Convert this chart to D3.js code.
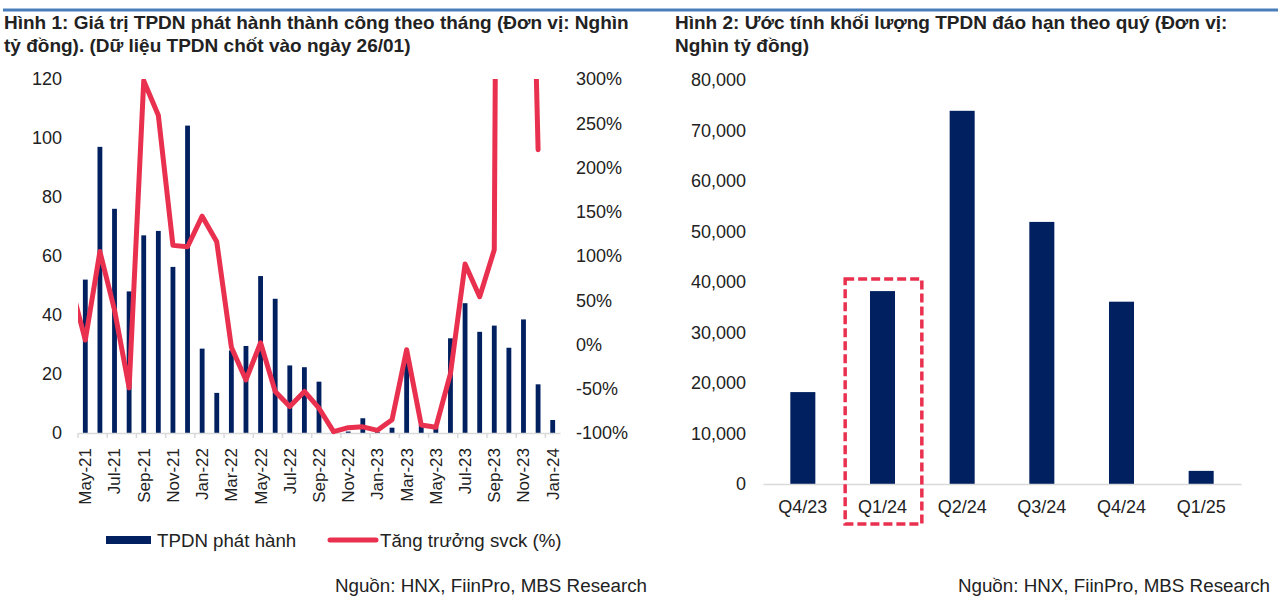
<!DOCTYPE html>
<html>
<head>
<meta charset="utf-8">
<script src="https://cdn.jsdelivr.net/npm/d3@7/dist/d3.min.js"></script>
<style>
  body { margin: 0; background: #fff; }
  svg { font-family: "Liberation Sans", Arial, sans-serif; }
  .tick text { fill: #222; font-size: 18px; }
</style>
</head>
<body>
<div id="chart"></div>
<script>
// Hinh 1: monthly issuance (nghin ty dong) and yoy growth (%)
var months = ["May-21","Jun-21","Jul-21","Aug-21","Sep-21","Oct-21","Nov-21","Dec-21",
  "Jan-22","Feb-22","Mar-22","Apr-22","May-22","Jun-22","Jul-22","Aug-22","Sep-22","Oct-22","Nov-22","Dec-22",
  "Jan-23","Feb-23","Mar-23","Apr-23","May-23","Jun-23","Jul-23","Aug-23","Sep-23","Oct-23","Nov-23","Dec-23",
  "Jan-24"];
var issued = [52, 97, 76, 48, 67, 68.5, 56.3, 104.2,
  28.6, 13.6, 28, 29.5, 53.2, 45.5, 22.9, 22.3, 17.4, 0.3, 0.5, 5,
  0.3, 1.8, 24.2, 2.7, 2, 32.1, 44, 34.3, 36.4, 28.9, 38.5, 16.5,
  4.4];
var growth = [5, 105, 39, -49, 298, 259, 112, 110.5,
  145, 116, -3, -40, 2, -53, -70, -53, -72, -98.5, -94, -93,
  -97, -85, -6, -91, -93.5, -33, 91, 54, 107, 3000, 900, 220,
  null];
var growthApr21 = 68; // month before the axis starts, only its segment shows
var issuedTicks = [0, 20, 40, 60, 80, 100, 120];
var growthTicks = [-100, -50, 0, 50, 100, 150, 200, 250, 300];

// Hinh 2: maturing volume by quarter (ty dong)
var quarters = ["Q4/23", "Q1/24", "Q2/24", "Q3/24", "Q4/24", "Q1/25"];
var maturing = [18200, 38200, 73900, 51900, 36100, 2600];
var maturingTicks = [0, 10000, 20000, 30000, 40000, 50000, 60000, 70000, 80000];

var navy = "#002060", red = "#e9304e", grid = "#d9d9d9";

var svg = d3.select("#chart").append("svg")
  .attr("width", 1280)
  .attr("height", 598);

// blue rule across the top
svg.append("rect")
  .attr("x", 3).attr("y", 8.5)
  .attr("width", 1275).attr("height", 3)
  .attr("fill", "#4a7ebb");

function title(x, lines) {
  var t = svg.append("text")
    .attr("x", x).attr("y", 29)
    .attr("fill", "#222")
    .style("font-size", "19px")
    .style("font-weight", "bold");
  lines.forEach(function (l, i) {
    t.append("tspan").attr("x", x).attr("dy", i ? 23 : 0).text(l);
  });
}
title(4, ["Hình 1: Giá trị TPDN phát hành thành công theo tháng (Đơn vị: Nghìn",
          "tỷ đồng). (Dữ liệu TPDN chốt vào ngày 26/01)"]);
title(675, ["Hình 2: Ước tính khối lượng TPDN đáo hạn theo quý (Đơn vị:",
            "Nghìn tỷ đồng)"]);

// ---------- left chart ----------
var pLeft = 78, pRight = 560, pTop = 79, pBottom = 433;

var x = d3.scaleBand(months, [pLeft, pRight]).paddingInner(0.67).paddingOuter(0.335);
var xb = d3.scaleBand(months, [pLeft, pRight]);
var yL = d3.scaleLinear([0, 120], [pBottom, pTop]);
var yR = d3.scaleLinear([-100, 300], [pBottom, pTop]);

svg.append("g")
  .selectAll("rect")
  .data(issued)
  .join("rect")
    .attr("x", (d, i) => x(months[i]))
    .attr("y", d => yL(d))
    .attr("width", x.bandwidth())
    .attr("height", d => yL(0) - yL(d))
    .attr("fill", navy);

var xAxis = svg.append("g")
  .attr("transform", `translate(0,${pBottom})`)
  .call(d3.axisBottom(x)
    .tickValues(months.filter((d, i) => i % 2 == 0))
    .tickSize(0)
    .tickSizeOuter(0));
xAxis.select(".domain").attr("stroke", grid).attr("stroke-width", 1.5);
xAxis.selectAll(".tick text")
  .attr("transform", "rotate(-90)")
  .attr("text-anchor", "end")
  .attr("x", -15)
  .attr("y", 0)
  .attr("dy", "0.35em")
  .style("font-size", "17px");

// tick marks sit on the band boundaries, every two months
svg.append("g")
  .selectAll("line")
  .data(months.filter((d, i) => i % 2 == 0))
  .join("line")
    .attr("x1", d => xb(d)).attr("x2", d => xb(d))
    .attr("y1", pBottom).attr("y2", pBottom + 5)
    .attr("stroke", grid).attr("stroke-width", 1.5);

var yLAxis = svg.append("g")
  .attr("transform", "translate(62,0)")
  .call(d3.axisLeft(yL).tickValues(issuedTicks).tickSize(0).tickPadding(0));
yLAxis.select(".domain").remove();

var yRAxis = svg.append("g")
  .attr("transform", "translate(576,0)")
  .call(d3.axisRight(yR).tickValues(growthTicks).tickSize(0).tickPadding(0)
    .tickFormat(d => d + "%"));
yRAxis.select(".domain").remove();

svg.append("clipPath").attr("id", "plot1")
  .append("rect")
  .attr("x", pLeft).attr("y", pTop)
  .attr("width", pRight - pLeft).attr("height", pBottom - pTop + 10);

var linePts = [{x: x(months[0]) - x.step() + x.bandwidth() / 2, v: growthApr21}]
  .concat(growth.map((v, i) => ({x: x(months[i]) + x.bandwidth() / 2, v: v})));

svg.append("path")
  .datum(linePts)
  .attr("clip-path", "url(#plot1)")
  .attr("fill", "none")
  .attr("stroke", red)
  .attr("stroke-width", 5)
  .attr("stroke-linejoin", "round")
  .attr("stroke-linecap", "round")
  .attr("d", d3.line().defined(d => d.v != null).x(d => d.x).y(d => yR(d.v)));

// legend
svg.append("rect").attr("x", 106).attr("y", 536).attr("width", 45).attr("height", 8).attr("fill", navy);
svg.append("text").attr("x", 157).attr("y", 547).attr("fill", "#222").style("font-size", "18.7px").text("TPDN phát hành");
svg.append("line").attr("x1", 330).attr("x2", 376).attr("y1", 540).attr("y2", 540)
  .attr("stroke", red).attr("stroke-width", 5).attr("stroke-linecap", "round");
svg.append("text").attr("x", 380).attr("y", 547).attr("fill", "#222").style("font-size", "18.7px").text("Tăng trưởng svck (%)");

// ---------- right chart ----------
var qLeft = 763, qRight = 1241, qTop = 80, qBottom = 484;
var xq = d3.scaleBand(quarters, [qLeft, qRight]).paddingInner(0.686).paddingOuter(0.343);
var yq = d3.scaleLinear([0, 80000], [qBottom, qTop]);

svg.append("g")
  .selectAll("rect")
  .data(maturing)
  .join("rect")
    .attr("x", (d, i) => xq(quarters[i]))
    .attr("y", d => yq(d))
    .attr("width", xq.bandwidth())
    .attr("height", d => yq(0) - yq(d))
    .attr("fill", navy);

var xqAxis = svg.append("g")
  .attr("transform", `translate(0,${qBottom})`)
  .call(d3.axisBottom(xq).tickSize(0).tickSizeOuter(0).tickPadding(16));
xqAxis.select(".domain").attr("stroke", grid).attr("stroke-width", 1.5);

var yqAxis = svg.append("g")
  .attr("transform", "translate(746,0)")
  .call(d3.axisLeft(yq).tickValues(maturingTicks).tickSize(0).tickPadding(0)
    .tickFormat(d3.format(",")));
yqAxis.select(".domain").remove();

// dashed highlight round Q1/24
var hi = quarters.indexOf("Q1/24");
var hiLeft = xq(quarters[hi]) - xq.step() * xq.paddingInner() / 2;
svg.append("rect")
  .attr("x", hiLeft + 2.5)
  .attr("y", yq(maturing[hi]) - 12)
  .attr("width", xq.step() - 3)
  .attr("height", 524 - (yq(maturing[hi]) - 12))
  .attr("fill", "none")
  .attr("stroke", red)
  .attr("stroke-width", 3.5)
  .attr("stroke-dasharray", "9,4");

// sources
svg.append("text").attr("x", 647).attr("y", 592).attr("text-anchor", "end")
  .attr("fill", "#222").style("font-size", "18.8px").text("Nguồn: HNX, FiinPro, MBS Research");
svg.append("text").attr("x", 1270).attr("y", 592).attr("text-anchor", "end")
  .attr("fill", "#222").style("font-size", "18.8px").text("Nguồn: HNX, FiinPro, MBS Research");
</script>
</body>
</html>
